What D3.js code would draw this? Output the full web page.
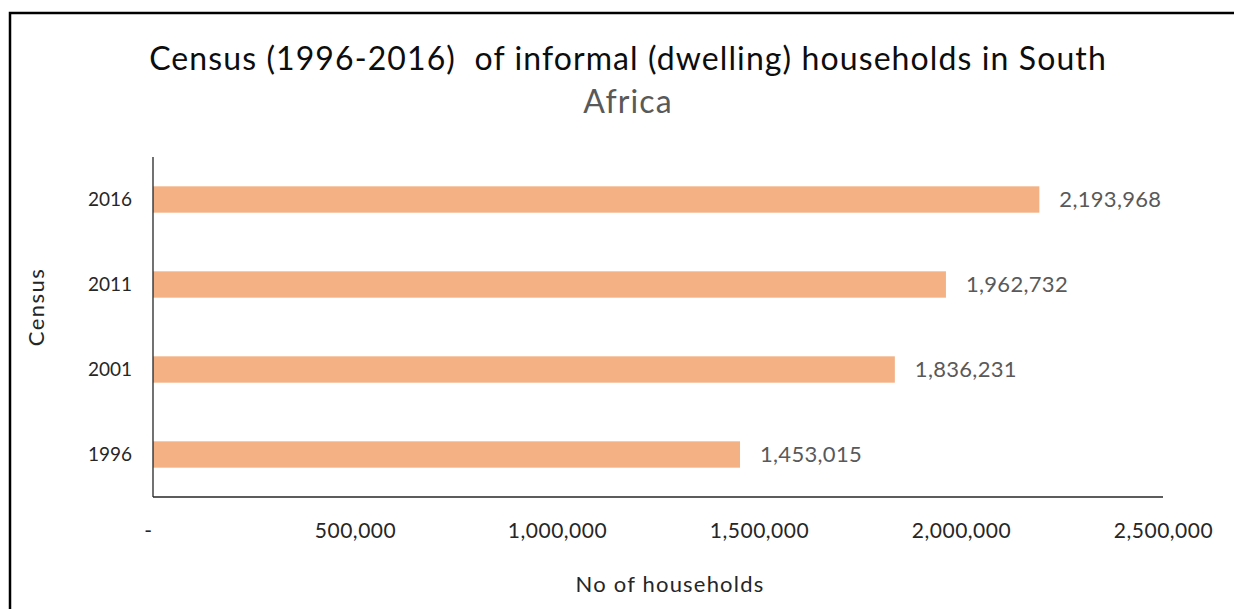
<!DOCTYPE html>
<html>
<head>
<meta charset="utf-8">
<script src="https://cdn.jsdelivr.net/npm/d3@7"></script>
<style>
  html, body { margin: 0; padding: 0; background: #fff; }
  svg { display: block; font-family: Lato, "Open Sans", sans-serif; }
</style>
</head>
<body>
<svg id="chart" width="1234" height="609"></svg>
<script>
// Census years and informal dwelling household counts
const years = ["2016", "2011", "2001", "1996"];
const households = [2193968, 1962732, 1836231, 1453015];
const xTicks = [0, 500000, 1000000, 1500000, 2000000, 2500000];
const titleLines = ["Census (1996-2016)  of informal (dwelling) households in South", "Africa"];
const xTitle = "No of households";
const yTitle = "Census";

const svg = d3.select("#chart");
const plot = { left: 153, right: 1163, top: 157, bottom: 497 };

// frame (left and top edges)
svg.append("path")
  .attr("d", `M10,609 L10,13 L1234,13`)
  .attr("fill", "none").attr("stroke", "#000").attr("stroke-width", 2.5);

const x = d3.scaleLinear().domain([0, 2500000]).range([plot.left, plot.right]);
const y = d3.scaleBand().domain(years).range([plot.top, plot.bottom]).paddingInner(0.69).paddingOuter(0.345);

// bars
svg.append("g").selectAll("rect").data(years).join("rect")
  .attr("x", x(0))
  .attr("y", d => y(d))
  .attr("width", (d, i) => x(households[i]) - x(0))
  .attr("height", y.bandwidth())
  .attr("fill", "#F4B183");

// value labels
const fmt = d3.format(",");
svg.append("g").selectAll("text").data(years).join("text")
  .attr("x", (d, i) => x(households[i]) + 20)
  .attr("y", d => y(d) + y.bandwidth() / 2)
  .attr("dy", "0.36em")
  .attr("font-size", 22)
  .attr("letter-spacing", 0.3)
  .attr("fill", "#595959")
  .text((d, i) => fmt(households[i]));

// y axis
const yAxis = svg.append("g").attr("transform", `translate(${plot.left},0)`)
  .call(d3.axisLeft(y).tickSize(0).tickPadding(21));
yAxis.select(".domain").attr("stroke", "#262626").attr("stroke-width", 1.3)
  .attr("d", `M0,${plot.top}V${plot.bottom}`);
yAxis.selectAll("text").attr("font-size", 19).attr("fill", "#262626").attr("font-family", "Lato");

// x axis
const xAxis = svg.append("g").attr("transform", `translate(0,${plot.bottom})`)
  .call(d3.axisBottom(x).tickValues(xTicks).tickSize(0).tickPadding(26)
    .tickFormat(d => d === 0 ? "-" : fmt(d)));
xAxis.select(".domain").attr("stroke", "#262626").attr("stroke-width", 1.3)
  .attr("d", `M${plot.left},0H${plot.right}`);
xAxis.selectAll("text").attr("font-size", 21).attr("letter-spacing", 0.5)
  .attr("fill", "#262626").attr("font-family", "Lato");
xAxis.selectAll(".tick").filter(d => d === 0).select("text").attr("dx", -5);

// title
svg.append("text").attr("x", 628).attr("y", 70).attr("text-anchor", "middle")
  .attr("font-size", 32).attr("letter-spacing", 1.1).style("white-space", "pre")
  .attr("fill", "#0d0d0d").text(titleLines[0]);
svg.append("text").attr("x", 628).attr("y", 113).attr("text-anchor", "middle")
  .attr("font-size", 32).attr("letter-spacing", 1.1)
  .attr("fill", "#595959").text(titleLines[1]);

// axis titles
svg.append("text").attr("x", 670).attr("y", 592).attr("text-anchor", "middle")
  .attr("font-size", 22).attr("letter-spacing", 1.2).attr("fill", "#262626").text(xTitle);
svg.append("text").attr("transform", "translate(44,307) rotate(-90)").attr("text-anchor", "middle")
  .attr("font-size", 22).attr("letter-spacing", 1.5).attr("fill", "#262626").text(yTitle);
</script>
</body>
</html>
